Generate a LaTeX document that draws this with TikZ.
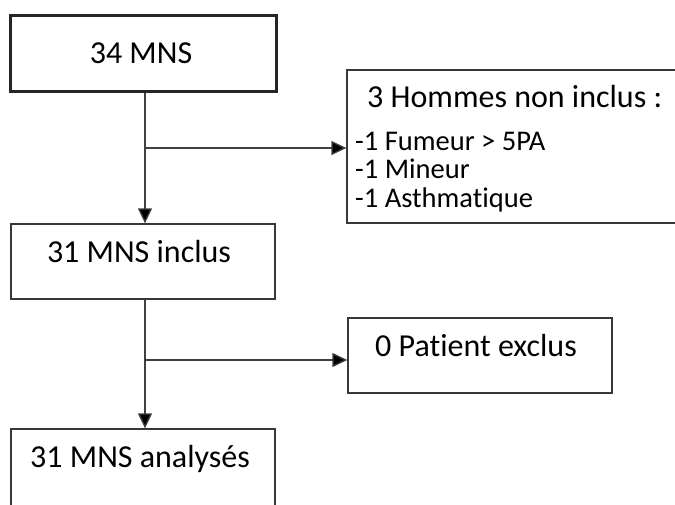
\documentclass[tikz,border=0pt]{standalone}
\usepackage{fontspec}
\setmainfont[Ligatures=NoCommon]{Carlito}
\usetikzlibrary{arrows.meta}
\tikzset{
  boxshape/.style={draw=black!78, line width=1.3pt, rectangle, inner sep=0pt},
  thickbox/.style={draw=black!85, line width=3pt, rectangle, inner sep=0pt},
  bigtxt/.style={inner sep=0pt, anchor=base, font=\fontsize{32}{38}\selectfont},
  listtxt/.style={inner sep=0pt, anchor=base west, font=\fontsize{28.5}{34}\selectfont},
  conn/.style={draw=black!75, line width=1.3pt},
  arr/.style={conn, -{Triangle[length=15pt, width=14pt, fill=black]}}
}
\begin{document}
\begin{tikzpicture}[x=1pt, y=-1pt]
\useasboundingbox (0,0) rectangle (675,504);
\clip (0,0) rectangle (675,504);
% boxes
\node[thickbox, minimum width=266pt, minimum height=76pt] (b1) at (143,53) {};
\node[boxshape, minimum width=264pt, minimum height=75pt] (b2) at (143,261.5) {};
\node[boxshape, minimum width=340pt, minimum height=153pt] (b3) at (517,146.5) {};
\node[boxshape, minimum width=264pt, minimum height=75pt] (b4) at (480,355.5) {};
\node[boxshape, minimum width=264pt, minimum height=110pt] (b5) at (143,484) {};
% texts
\node[bigtxt] (t1) at (141,63) {34 MNS};
\node[bigtxt] (t2) at (139,262.5) {31 MNS inclus};
\node[bigtxt] (t4) at (476,356.5) {0 Patient exclus};
\node[bigtxt] (t5) at (140,467) {31 MNS analysés};
\node[bigtxt, anchor=base west] (t3) at (367,107) {3 Hommes non inclus :};
\node[listtxt] (l1) at (355,150) {-1 Fumeur > 5PA};
\node[listtxt] (l2) at (355,178.5) {-1 Mineur};
\node[listtxt] (l3) at (355,207) {-1 Asthmatique};
% junctions
\coordinate (j1) at (145,148);
\coordinate (j2) at (145,360);
% connectors
\draw[arr] (b1.south -| j1) -- (b2.north -| j1);
\draw[arr] (j1) -- (b3.west |- j1);
\draw[arr] (b2.south -| j2) -- (b5.north -| j2);
\draw[arr] (j2) -- (b4.west |- j2);
\end{tikzpicture}
\end{document}
